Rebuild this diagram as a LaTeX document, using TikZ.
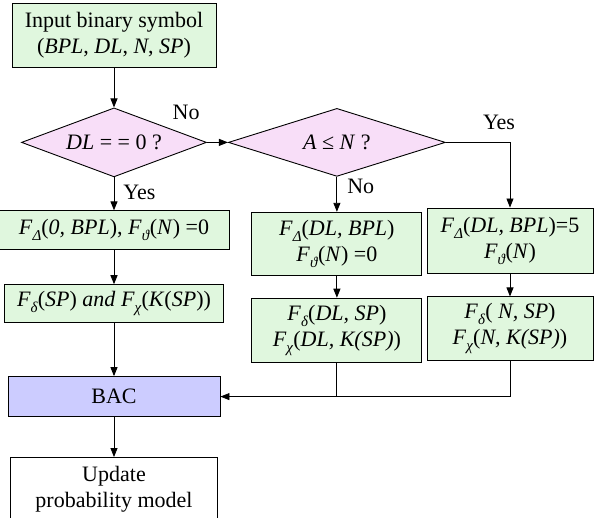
\documentclass[tikz,border=0pt]{standalone}
\usepackage{fontspec}
\setmainfont{Liberation Serif}
\usetikzlibrary{shapes.geometric, arrows.meta, positioning}
\definecolor{boxgreen}{RGB}{224,247,222}
\definecolor{decpink}{RGB}{248,222,248}
\definecolor{bacblue}{RGB}{204,204,255}
\newcommand{\Fsub}[1]{\textit{F}\raisebox{-6pt}{\fontsize{15}{15}\selectfont\textit{#1}}}

\begin{document}
\begin{tikzpicture}[
  x=1pt, y=1pt,
  every node/.style={font=\fontsize{22}{26}\selectfont},
  box/.style={draw, rectangle, fill=boxgreen, align=center, inner sep=2pt, line width=0.9pt},
  decision/.style={draw, diamond, fill=decpink, inner sep=0pt, line width=0.9pt},
  lbl/.style={inner sep=2pt},
  arrow/.style={-{Triangle[length=9pt,width=7pt]}, line width=0.9pt}
]
\useasboundingbox (0,0) rectangle (594,-518);

% Left column
\node[box, minimum width=204pt, minimum height=64pt] (input) at (114,-35) {Input binary symbol\\(\textit{BPL}, \textit{DL}, \textit{N}, \textit{SP})};
\node[decision, aspect=2.7, minimum width=185pt, minimum height=69pt, below=40pt of input] (dl) {\textit{DL} = = 0 ?};
\node[box, minimum width=230pt, minimum height=39pt, below=33pt of dl] (fzero) {\Fsub{Δ}(\textit{0, BPL}), \Fsub{ϑ}(\textit{N}) =0};
\node[box, minimum width=219pt, minimum height=38pt, below=34pt of fzero] (fsp) {\Fsub{δ}(\textit{SP}) \textit{and} \Fsub{χ}(\textit{K}(\textit{SP}))};
\node[box, fill=bacblue, minimum width=212pt, minimum height=40pt, below=53pt of fsp] (bac) {BAC};
\node[box, fill=white, minimum width=207pt, minimum height=63pt, below=40pt of bac] (update) {Update\\probability model};

% Second decision and its branches
\node[decision, aspect=3.2, minimum width=217pt, minimum height=68pt, right=21pt of dl] (an) {\textit{A} ≤ \textit{N} ?};
\node[box, minimum width=170pt, minimum height=63pt, below=35pt of an] (nodl) {\Fsub{Δ}(\textit{DL, BPL})\\\Fsub{ϑ}(\textit{N}) =0};
\node[box, minimum width=170pt, minimum height=64pt, below=22pt of nodl] (nodlsp) {\Fsub{δ}(\textit{DL, SP})\\\Fsub{χ}(\textit{DL, K(SP)})};
\node[box, minimum width=166pt, minimum height=65pt] (yesdl) at (510,-240.5) {\Fsub{Δ}(\textit{DL, BPL})=5\\\Fsub{ϑ}(\textit{N})};
\node[box, minimum width=166pt, minimum height=64pt, below=23pt of yesdl] (yessp) {\Fsub{δ}( \textit{N, SP})\\\Fsub{χ}(\textit{N, K(SP)})};

% Arrows (left column)
\draw[arrow] (input) -- (dl);
\draw[arrow] (dl) -- node[lbl, pos=0, below right=5pt and 7pt] {Yes} (fzero);
\draw[arrow] (fzero) -- (fsp);
\draw[arrow] (fsp) -- (bac);
\draw[arrow] (bac) -- (update);

% Arrows (right part)
\draw[arrow] (dl) -- node[lbl, pos=0, above left=20pt and 5pt] {No} (an);
\draw[arrow] (an) -- node[lbl, pos=0, below right=0pt and 8pt] {No} (nodl);
\draw[arrow] (an.east) -| node[lbl, pos=0.5, above=10pt, xshift=-11pt] {Yes} (yesdl.north);
\draw[arrow] (nodl) -- (nodlsp);
\draw[arrow] (yesdl) -- (yessp);
\draw[arrow] (nodlsp.south) |- (bac.east);
\draw (yessp.south) |- (bac.east);

\end{tikzpicture}
\end{document}
